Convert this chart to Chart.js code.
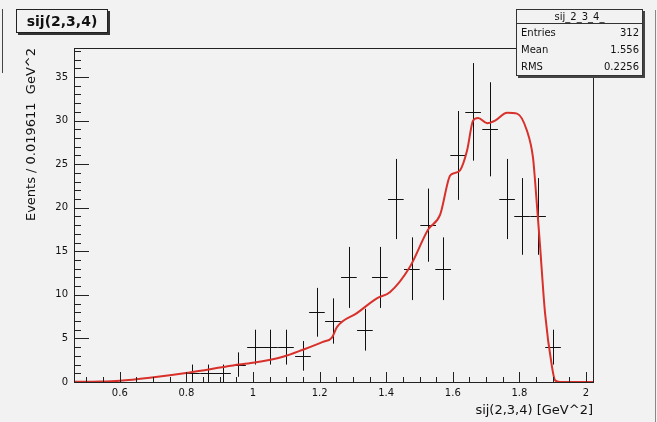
<!DOCTYPE html>
<html>
<head>
<meta charset="utf-8">
<script src="https://cdn.jsdelivr.net/npm/chart.js@4"></script>
<style>
body{margin:0;background:#f2f2f2;font-family:"DejaVu Sans",sans-serif;color:#111;}
#wrap{position:relative;width:657px;height:422px;overflow:hidden;}
#c{position:absolute;left:0;top:0;}
.edgeL{position:absolute;left:2px;top:9px;width:0;height:64px;border-left:1px solid #444;}
.edgeR{position:absolute;left:655px;top:10px;width:0;height:412px;border-left:1px solid #888;}
.titlebox{position:absolute;left:16px;top:9px;width:90px;height:22px;border:1px solid #222;box-shadow:2px 2px 0 #333;background:#f2f2f2;font-size:14px;font-weight:bold;line-height:22px;text-align:center;}
.stats{position:absolute;left:516px;top:9px;width:125px;height:65px;border:1px solid #333;box-shadow:2px 2px 0 #444;background:#f2f2f2;font-size:10px;}
.stats .hd{height:13px;line-height:13px;text-align:center;border-bottom:1px solid #333;}
.stats .row{height:17px;line-height:18px;padding:0 3px 0 4px;display:flex;justify-content:space-between;}
</style>
</head>
<body>
<div id="wrap">
<canvas id="c" width="657" height="422"></canvas>
<div class="edgeL"></div>
<div class="edgeR"></div>
<div class="titlebox">sij(2,3,4)</div>
<div class="stats">
<div class="hd">sij_2_3_4_</div>
<div class="row"><span>Entries</span><span>312</span></div>
<div class="row"><span>Mean</span><span>1.556</span></div>
<div class="row"><span>RMS</span><span>0.2256</span></div>
</div>
</div>
<script>
/* DATA */
const xTicks=[0.6,0.8,1,1.2,1.4,1.6,1.8,2];
const yTicks=[0,5,10,15,20,25,30,35];

const binX=[0.817,0.865,0.910,0.955,1.006,1.051,1.099,1.150,1.192,1.240,1.288,1.336,1.381,1.429,1.477,1.526,1.571,1.616,1.661,1.712,1.763,1.808,1.856,1.901];
const counts=[1,1,1,2,4,4,4,3,8,7,12,6,12,21,13,18,13,26,31,29,21,19,19,4];
const errs=[1,1,1,1.4,2,2,2,1.7,2.8,2.6,3.5,2.4,3.5,4.6,3.6,4.2,3.6,5.1,5.6,5.4,4.6,4.4,4.4,2];

const fitX=[0.4625,0.54,0.60,0.69,0.81,0.94,1.0,1.09,1.15,1.21,1.237,1.252,1.312,1.372,1.411,1.471,1.526,1.562,1.592,1.607,1.622,1.643,1.661,1.676,1.703,1.727,1.763,1.793,1.823,1.841,1.847,1.862,1.877,1.898,1.907,1.922,2.021];
const fitY=[0.02,0.05,0.15,0.5,1.1,1.9,2.2,2.9,3.7,4.6,5.1,6.3,7.9,9.6,10.3,13.2,17.5,19.2,23.7,24.0,24.3,26.6,30.0,30.3,29.7,30.0,30.9,30.8,28.8,25.7,23.1,15.6,7.9,1.7,0.2,0,0];

const binHalf=0.0235;

/* ERROR BARS */
const errorBars={
id:"errorBars",
beforeDatasetsDraw(chart){
const ctx=chart.ctx,sx=chart.scales.x,sy=chart.scales.y;
ctx.save();
ctx.strokeStyle="#111";
ctx.lineWidth=1;
ctx.beginPath();
for(let i=0;i<binX.length;i++){
let px=Math.round(sx.getPixelForValue(binX[i]))+0.5;
let py=Math.round(sy.getPixelForValue(counts[i]))+0.5;
ctx.moveTo(sx.getPixelForValue(binX[i]-binHalf),py);
ctx.lineTo(sx.getPixelForValue(binX[i]+binHalf),py);
ctx.moveTo(px,sy.getPixelForValue(counts[i]+errs[i]));
ctx.lineTo(px,sy.getPixelForValue(Math.max(0,counts[i]-errs[i])));
}
ctx.stroke();
ctx.restore();
}
};

/* FRAME + TICKS (root style, inside) */
const rootFrame={
id:"rootFrame",
afterDraw(chart){
const ctx=chart.ctx,a=chart.chartArea,sx=chart.scales.x,sy=chart.scales.y;
ctx.save();
ctx.strokeStyle="#222";
ctx.lineWidth=1;
ctx.strokeRect(Math.round(a.left)+0.5,Math.round(a.top)+0.5,Math.round(a.right-a.left),Math.round(a.bottom-a.top));
ctx.beginPath();
for(let v=0;v<=38;v++){
let py=Math.round(sy.getPixelForValue(v))+0.5;
let len=(v%5===0)?15:7;
ctx.moveTo(a.left,py);ctx.lineTo(a.left+len,py);
}
for(let k=9;k<=40;k++){
let v=k*0.05;
if(v<sx.min||v>sx.max)continue;
let px=Math.round(sx.getPixelForValue(v))+0.5;
let len=(k%4===0)?10:5;
ctx.moveTo(px,a.bottom);ctx.lineTo(px,a.bottom-len);
}
ctx.stroke();
ctx.restore();
}
};

/* CHART */
new Chart(document.getElementById("c"),{
type:"scatter",
data:{
datasets:[{
label:"data",
data:binX.map((x,i)=>({x:x,y:counts[i]})),
pointRadius:0,
showLine:false
},{
label:"fit",
data:fitX.map((x,i)=>({x:x,y:fitY[i]})),
showLine:true,
borderColor:"#d8302a",
borderWidth:2,
pointRadius:0,
cubicInterpolationMode:"monotone"
}]
},
options:{
responsive:false,
animation:false,
layout:{padding:{left:0,top:48,right:64,bottom:0}},
plugins:{legend:{display:false},tooltip:{enabled:false}},
scales:{
x:{
type:"linear",min:0.4625,max:2.021,
afterBuildTicks:s=>{s.ticks=xTicks.map(v=>({value:v}));},
afterFit:s=>{s.height=40;},
grid:{display:false,drawTicks:false},
border:{display:false},
ticks:{color:"#111",autoSkip:false,maxRotation:0,padding:5,font:{family:"DejaVu Sans",size:10},callback:v=>String(v)},
title:{display:true,text:"sij(2,3,4) [GeV^2]",align:"end",color:"#111",font:{family:"DejaVu Sans",size:13},padding:{top:0,bottom:4}}
},
y:{
min:0,max:38.33,
afterBuildTicks:s=>{s.ticks=yTicks.map(v=>({value:v}));},
afterFit:s=>{s.width=74;},
grid:{display:false,drawTicks:false},
border:{display:false},
ticks:{color:"#111",padding:6,font:{family:"DejaVu Sans",size:10},callback:v=>String(v)},
title:{display:true,text:"Events / 0.019611  GeV^2",align:"end",color:"#111",font:{family:"DejaVu Sans",size:13},padding:{top:24,bottom:0}}
}
}
},
plugins:[errorBars,rootFrame]
});
</script>
</body>
</html>
